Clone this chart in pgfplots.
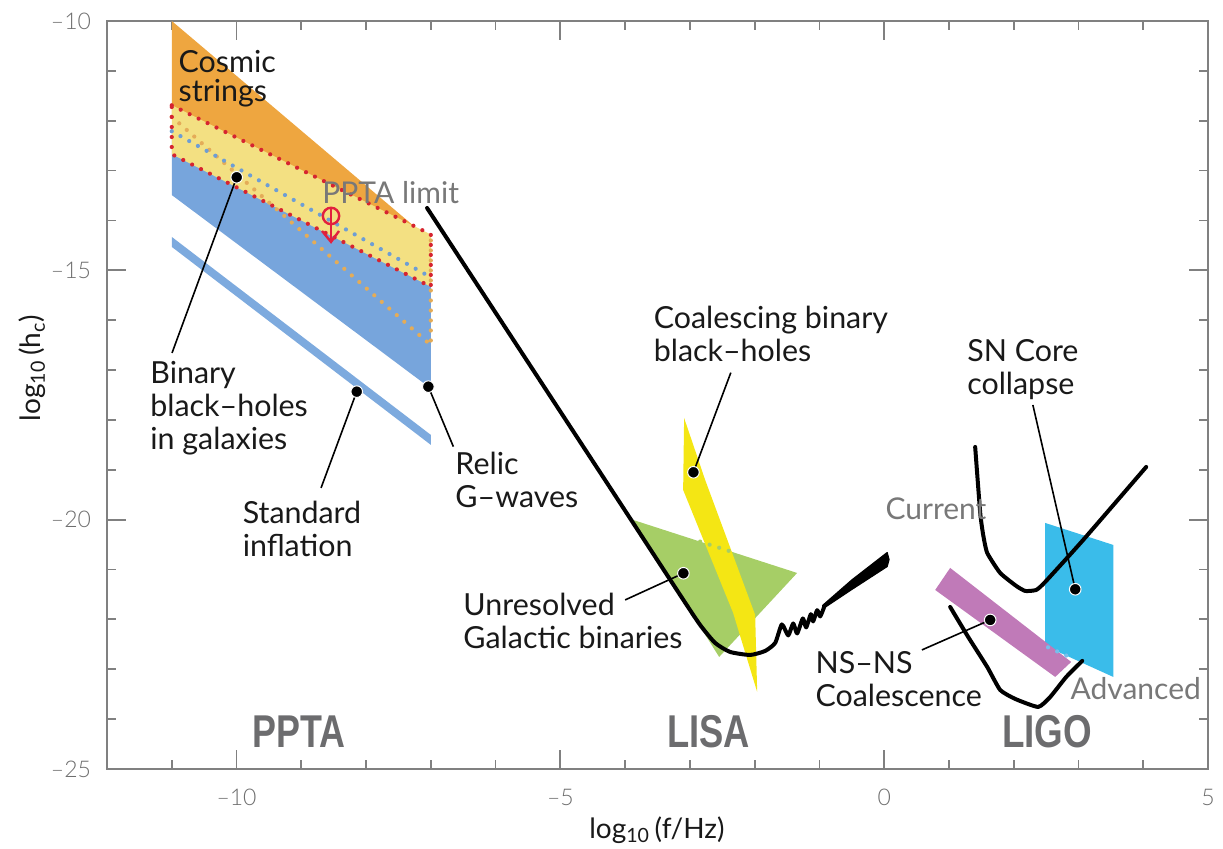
\documentclass[border=0pt]{standalone}
\usepackage{fontspec}
\setmainfont{Lato}
\newfontfamily\boldface{Liberation Sans Bold}
\newfontfamily\lightface{Lato Light}
\usepackage{graphicx}
\usepackage{pgfplots}
\pgfplotsset{compat=1.18}

\definecolor{axisgray}{RGB}{128,128,128}
\definecolor{tickgray}{RGB}{110,110,110}
\definecolor{labelgray}{RGB}{120,120,120}
\definecolor{boldgray}{RGB}{108,108,110}
\definecolor{textdark}{RGB}{25,25,25}
\definecolor{cosmic}{RGB}{238,166,64}
\definecolor{cosmicdot}{RGB}{228,172,88}
\definecolor{pptafill}{RGB}{243,224,130}
\definecolor{bbhblue}{RGB}{119,165,220}
\definecolor{bbhdot}{RGB}{110,158,212}
\definecolor{inflblue}{RGB}{125,170,222}
\definecolor{limitred}{RGB}{214,36,48}
\definecolor{arrowred}{RGB}{226,32,62}
\definecolor{galgreen}{RGB}{166,206,102}
\definecolor{cbhyellow}{RGB}{244,230,20}
\definecolor{nspurple}{RGB}{192,122,184}
\definecolor{snblue}{RGB}{58,188,234}
\definecolor{snbluedot}{RGB}{120,190,235}

\tikzset{
  dotline/.style={line width=2.1pt, line cap=round, dash pattern=on 0pt off 5pt},
  leader/.style={black, line width=0.8pt},
  lbl/.style={anchor=north west, inner sep=0pt, align=left, text=textdark,
              font=\fontsize{15.2}{16.5}\selectfont},
  glbl/.style={anchor=north west, inner sep=0pt, align=left, text=labelgray,
              font=\fontsize{15}{16.5}\selectfont},
  band/.style={anchor=base, inner sep=0pt, text=boldgray,
              font=\fontsize{23}{25}\boldface},
}

\begin{document}
\begin{tikzpicture}
\begin{axis}[
  at={(0,0)}, anchor=south west,
  scale only axis, width=550.5pt, height=374pt,
  xmin=-12, xmax=5, ymin=-25, ymax=-10,
  clip=false,
  axis line style={axisgray, line width=0.9pt},
  every tick/.style={axisgray, line width=0.9pt},
  tick align=inside, tick pos=both,
  major tick length=9.5pt, minor tick length=4.5pt,
  xtick={-10,-5,0,5}, xticklabels={–10,–5,0,5},
  minor xtick={-12,...,5},
  ytick={-25,-20,-15,-10}, yticklabels={–25,–20,–15,–10},
  minor ytick={-25,...,-10},
  ticklabel style={font=\lightface\fontsize{11.5}{13}\selectfont, text=tickgray},
  xticklabel style={yshift=-6.5pt},
  yticklabel style={xshift=-4.5pt},
  xlabel={log\textsubscript{10}\,(f/Hz)},
  ylabel={log\textsubscript{10}\,(h\textsubscript{c})},
  label style={font=\fontsize{14}{15}\selectfont, text=textdark},
  xlabel style={at={(axis description cs:0.4995,-0.0816)}, anchor=center},
  ylabel style={at={(axis description cs:-0.068,0.536)}, anchor=center},
]

% ---------------- PPTA band ----------------
% cosmic strings
\addplot[fill=cosmic, draw=none] coordinates {(-11,-10) (-7,-14.4) (-7,-16.5) (-11,-11.92)} -- cycle;
% binary black holes in galaxies
\addplot[fill=bbhblue, draw=none] coordinates {(-11,-12.21) (-7,-15.14) (-7,-17.37) (-11,-13.49)} -- cycle;
% PPTA limit region
\addplot[fill=pptafill, draw=none] coordinates {(-11,-11.69) (-7,-14.28) (-7,-15.33) (-11,-12.67)} -- cycle;
% hidden edges shown dotted
\addplot[dotline, color=cosmicdot] coordinates {(-11,-11.92) (-7,-16.5) (-7,-14.4)};
\addplot[dotline, color=bbhdot] coordinates {(-11,-12.21) (-7,-15.14)};
\addplot[dotline, color=limitred] coordinates {(-11,-11.69) (-7,-14.28) (-7,-15.33) (-11,-12.67) (-11,-11.69)};
% standard inflation
\addplot[fill=inflblue, draw=none] coordinates {(-11,-14.33) (-7,-18.30) (-7,-18.50) (-11,-14.53)} -- cycle;
% PPTA limit marker
\addplot[arrowred, line width=1.2pt] coordinates {(-8.541,-13.74) (-8.541,-14.40)};
\addplot[arrowred, line width=1.2pt, line join=miter] coordinates {(-8.68,-14.211) (-8.541,-14.43) (-8.417,-14.211)};
\addplot[only marks, mark=o, mark size=4.1pt, mark options={arrowred, line width=1.2pt}] coordinates {(-8.541,-13.91)};

% ---------------- LISA band ----------------
\addplot[fill=galgreen, draw=none] coordinates {(-3.876,-20.006) (-1.344,-21.069) (-2.548,-22.753)} -- cycle;
\addplot[fill=cbhyellow, draw=none] coordinates {(-3.089,-17.961) (-2.764,-19.204) (-1.992,-21.911) (-1.961,-23.455) (-2.332,-21.871) (-3.104,-19.404)} -- cycle;
\addplot[dotline, color=galgreen] coordinates {(-2.842,-20.44) (-2.301,-20.667)};
% LISA sensitivity
\addplot[black, line width=2pt, line join=round, line cap=round, smooth, tension=0.35] coordinates {
  (-7.058,-13.75) (-4.34,-19.144) (-3.151,-21.51) (-2.842,-22.111) (-2.61,-22.472)
  (-2.378,-22.653) (-2.069,-22.713) (-1.838,-22.633) (-1.683,-22.472)
  (-1.580,-22.101) (-1.482,-22.321) (-1.405,-22.081) (-1.344,-22.282)
  (-1.256,-21.981) (-1.205,-22.161) (-1.132,-21.895) (-1.097,-22.041)
  (-1.035,-21.815) (-0.988,-21.941) (-0.927,-21.751)};
\addplot[fill=black, draw=black, line width=0.6pt, line join=round] coordinates {
  (-0.95,-21.72) (-0.50,-21.21) (0.046,-20.66) (0.075,-20.80) (0.046,-20.94) (-0.50,-21.40) (-0.95,-21.79)} -- cycle;

% ---------------- LIGO band ----------------
\addplot[fill=snblue, draw=none] coordinates {(2.486,-20.066) (3.537,-20.507) (3.537,-23.154) (2.486,-22.533)} -- cycle;
\addplot[fill=nspurple, draw=none] coordinates {(1.019,-20.968) (2.888,-22.853) (2.641,-23.154) (0.788,-21.41)} -- cycle;
\addplot[dotline, color=snbluedot] coordinates {(2.53,-22.56) (2.85,-22.748)};
% current detector
\addplot[black, line width=2pt, line join=round, line cap=round, smooth, tension=0.3] coordinates {
  (1.405,-18.542) (1.483,-19.866) (1.529,-20.307) (1.591,-20.668) (1.791,-21.069)
  (2.039,-21.329) (2.178,-21.430) (2.347,-21.410) (2.486,-21.249) (3.073,-20.407) (4.046,-18.943)};
% advanced detector
\addplot[black, line width=2pt, line join=round, line cap=round, smooth, tension=0.3] coordinates {
  (1.019,-21.751) (1.297,-22.352) (1.591,-22.954) (1.791,-23.415) (2.023,-23.595)
  (2.378,-23.756) (2.564,-23.555) (2.811,-23.154) (3.058,-22.833)};

% ---------------- leaders ----------------
\addplot[leader] coordinates {(-9.997,-13.134) (-10.996,-16.657)};
\addplot[leader] coordinates {(-8.144,-17.433) (-8.695,-19.364)};
\addplot[leader] coordinates {(-7.038,-17.333) (-6.652,-18.536)};
\addplot[leader] coordinates {(-2.945,-19.05) (-2.368,-17.052)};
\addplot[leader] coordinates {(-3.10,-21.075) (-4.0,-21.61)};
\addplot[leader] coordinates {(2.95,-21.396) (2.296,-17.70)};
\addplot[leader] coordinates {(1.637,-22.011) (0.582,-22.613)};
\addplot[only marks, mark=*, mark size=2.9pt, mark options={fill=black, draw=white, line width=0.5pt}] coordinates {
  (-9.997,-13.134) (-8.144,-17.433) (-7.038,-17.333) (-2.945,-19.05) (-3.10,-21.075) (2.95,-21.396) (1.637,-22.011)};

% ---------------- labels ----------------
\node[lbl, font=\fontsize{15.2}{14.6}\selectfont] at (axis cs:-10.899,-10.58) {Cosmic\\strings};
\node[lbl] at (axis cs:-11.336,-16.818) {Binary\\black–holes\\in galaxies};
\node[lbl] at (axis cs:-9.910,-19.619) {Standard\\inflation};
\node[lbl] at (axis cs:-6.626,-18.642) {Relic\\G–waves};
\node[lbl] at (axis cs:-3.563,-15.709) {Coalescing binary\\black–holes};
\node[lbl] at (axis cs:-6.502,-21.47) {Unresolved\\Galactic binaries};
\node[lbl] at (axis cs:1.277,-16.377) {SN Core\\collapse};
\node[lbl] at (axis cs:-1.066,-22.633) {NS–NS\\Coalescence};
\node[glbl] at (axis cs:-8.680,-13.208) {PPTA limit};
\node[glbl] at (axis cs:0.015,-19.545) {Current};
\node[glbl] at (axis cs:2.873,-23.154) {Advanced};
\node[band] at (axis cs:-9.035,-24.578) {\scalebox{0.78}[1]{PPTA}};
\node[band] at (axis cs:-2.711,-24.578) {\scalebox{0.79}[1]{LISA}};
\node[band] at (axis cs:2.517,-24.578) {\scalebox{0.8}[1]{LIGO}};
\end{axis}
\pgfresetboundingbox
\path (-53.5pt,-40pt) rectangle (558pt,384.5pt);
\end{tikzpicture}
\end{document}
